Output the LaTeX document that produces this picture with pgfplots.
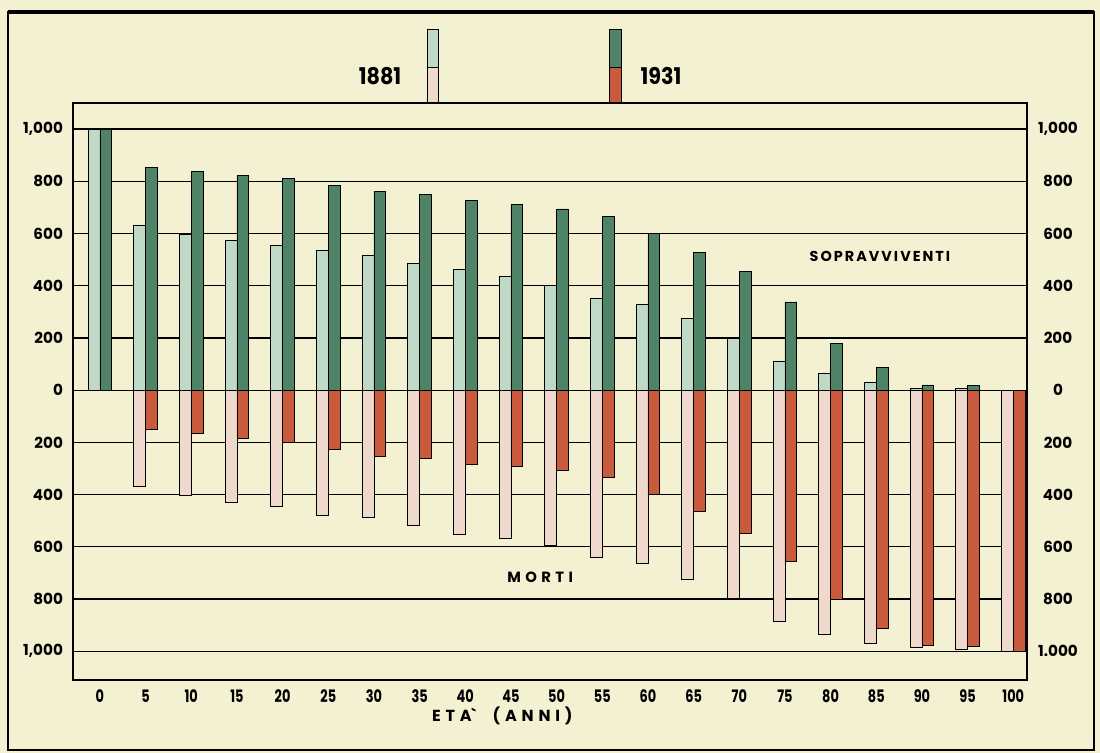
\documentclass[border=0pt]{standalone}
\usepackage{fontspec}
\setmainfont{Poppins}
\newfontfamily\spaced[LetterSpace=14]{Poppins}
\newfontfamily\wide[LetterSpace=30]{Poppins}
\usepackage{pgfplots}
\usepackage{pgfplotstable}
\pgfplotsset{compat=1.18}
\definecolor{bg}{HTML}{F4F1D2}
\definecolor{lgreen}{HTML}{C0D8C6}
\definecolor{lpink}{HTML}{EFD9CD}
\definecolor{dgreen}{HTML}{4E8366}
\definecolor{dred}{HTML}{C95A3C}
\pgfplotstableread{
age s81 d81 s31 d31
0 1000 0 1000 0
5 633 -370 852 -150
10 598 -403 839 -165
15 573 -429 822 -184
20 555 -444 811 -200
25 534 -480 785 -228
30 518 -489 762 -254
35 487 -517 751 -263
40 461 -552 725 -286
45 437 -567 713 -292
50 400 -594 694 -306
55 353 -640 667 -335
60 329 -665 600 -398
65 276 -723 528 -464
70 197 -797 454 -548
75 112 -884 338 -656
80 64 -936 179 -803
85 28 -971 86 -911
90 8 -985 20 -977
95 5 -992 17 -983
100 0 -1000 0 -1000
}\data
\begin{document}
\begin{tikzpicture}
\fill[bg] (-36.5pt,-36.5pt) rectangle (513.5pt,340pt);
\useasboundingbox (-36.5pt,-36.5pt) rectangle (513.5pt,340pt);
\draw[line width=0.8pt] (-32.5pt,-35pt) rectangle (510.5pt,334pt);
\draw[line width=1.6pt] (-32.5pt,334pt) -- (510.5pt,334pt);
\begin{axis}[
  at={(0,0)}, anchor=south west, scale only axis,
  width=477pt, height=288.5pt,
  xmin=-2.95, xmax=101.5, ymin=-1110, ymax=1100,
  enlargelimits=false,
  axis line style={line width=1pt},
  major tick length=0pt,
  xtick={0,5,...,100},
  xticklabels={0,5,10,15,20,25,30,35,40,45,50,55,60,65,70,75,80,85,90,95,100},
  ytick={-1000,-800,...,1000},
  yticklabels={{1,000},800,600,400,200,0,200,400,600,800,{1,000}},
  ymajorgrids, major grid style={black, line width=0.6pt},
  xticklabel style={font=\bfseries\fontsize{8.6}{9}\selectfont, xscale=0.75, yshift=-1.5pt},
  yticklabel style={font=\bfseries\fontsize{7.6}{8}\selectfont, xshift=-1.5pt},
  ytick pos=left, xtick pos=bottom,
  clip=false,
]
\addplot[ybar, bar width=1.3, bar shift=-0.65, fill=lgreen, draw=black, line width=0.4pt] table[x=age, y=s81] {\data};
\addplot[ybar, bar width=1.3, bar shift=0.65, fill=dgreen, draw=black, line width=0.4pt] table[x=age, y=s31] {\data};
\addplot[ybar, bar width=1.3, bar shift=-0.65, fill=lpink, draw=black, line width=0.4pt] table[x=age, y=d81] {\data};
\addplot[ybar, bar width=1.3, bar shift=0.65, fill=dred, draw=black, line width=0.4pt] table[x=age, y=d31] {\data};
\node[font=\spaced\bfseries\fontsize{7.2}{8}\selectfont] at (axis cs:85.4,511) {SOPRAVVIVENTI};
\node[font=\wide\bfseries\fontsize{7.4}{8}\selectfont] at (axis cs:48.2,-716) {MORTI};
\node[font=\wide\bfseries\fontsize{8}{9}\selectfont] at (rel axis cs:0.45,0) [yshift=-18pt] {ETA\textasciigrave\ \ (ANNI)};
\end{axis}
\begin{axis}[
  at={(0,0)}, anchor=south west, scale only axis,
  width=477pt, height=288.5pt,
  xmin=-2.95, xmax=101.5, ymin=-1110, ymax=1100,
  hide x axis, axis y line*=right,
  axis line style={line width=1pt},
  major tick length=0pt,
  ytick={-1000,-800,...,1000},
  yticklabels={{1.000},800,600,400,200,0,200,400,600,800,{1,000}},
  yticklabel style={font=\bfseries\fontsize{7.6}{8}\selectfont, anchor=center, xshift=15.5pt},
]
\addplot[draw=none] coordinates {(0,0)};
\end{axis}
% legend
\draw[line width=0.5pt, fill=lgreen] (177pt,306pt) rectangle (182.5pt,325pt);
\draw[line width=0.5pt, fill=lpink] (177pt,288.5pt) rectangle (182.5pt,306pt);
\draw[line width=0.5pt, fill=dgreen] (268pt,306pt) rectangle (274pt,325pt);
\draw[line width=0.5pt, fill=dred] (268pt,288.5pt) rectangle (274pt,306pt);
\node[font=\bfseries\fontsize{11.5}{12}\selectfont, xscale=0.9] at (153.5pt,302pt) {1881};
\node[font=\bfseries\fontsize{11.5}{12}\selectfont, xscale=0.9] at (294pt,302pt) {1931};
\end{tikzpicture}
\end{document}
